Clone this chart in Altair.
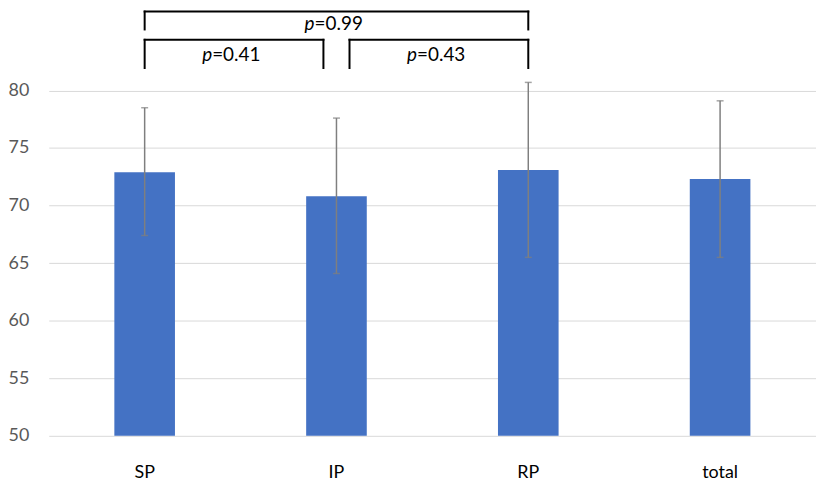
import altair as alt
import pandas as pd

# ---- data ----
categories = ["SP", "IP", "RP", "total"]
means = [72.9, 70.8, 73.1, 72.3]
lower = [67.4, 64.1, 65.5, 65.5]
upper = [78.5, 77.6, 80.7, 79.1]

# significance brackets: (from, to, p-value label, level)
br_from = ["SP", "IP", "SP"]
br_to = ["IP", "RP", "RP"]
br_p = ["=0.41", "=0.43", "=0.99"]
br_level = ["low", "low", "high"]

# ---- styling / layout constants ----
Y_MIN = 50
Y_MAX = 86.95
LEVEL_TOP = {"low": 84.4, "high": 86.85}
LEVEL_LEG = {"low": 81.95, "high": 85.3}
LEVEL_TEXT = {"low": 83.1, "high": 85.75}
INSET = 0.068  # gap between adjacent brackets at a shared category
FONT = "Lato"

df = pd.DataFrame({"cat": categories, "mean": means, "lo": lower, "hi": upper})

# build bracket segments
seg_rows, txt_rows = [], []
for a, b, p, lev in zip(br_from, br_to, br_p, br_level):
    ia, ib = categories.index(a) + 0.5, categories.index(b) + 0.5
    others = [(c, d) for c, d, l in zip(br_from, br_to, br_level) if l == lev and (c, d) != (a, b)]
    if any(d == a for c, d in others):
        ia += INSET
    if any(c == b for c, d in others):
        ib -= INSET
    top, leg = LEVEL_TOP[lev], LEVEL_LEG[lev]
    seg_rows += [
        {"x": ia, "x2": ib, "y": top, "y2": top},
        {"x": ia, "x2": ia, "y": top, "y2": leg},
        {"x": ib, "x2": ib, "y": top, "y2": leg},
    ]
    txt_rows.append({"x": (ia + ib) / 2, "y": LEVEL_TEXT[lev], "p": "p", "rest": p})

seg = pd.DataFrame(seg_rows)
txt = pd.DataFrame(txt_rows)

yscale = alt.Scale(domain=[Y_MIN, Y_MAX], nice=False, zero=False)
xband = alt.X(
    "cat:N",
    sort=categories,
    title=None,
    scale=alt.Scale(paddingInner=0.684, paddingOuter=0.342),
    axis=alt.Axis(
        labelAngle=0, labelFont=FONT, labelFontSize=18, labelColor="#000000",
        labelPadding=28, domain=False, ticks=False, tickSize=0, grid=False,
    ),
)
yenc = alt.Y(
    "mean:Q",
    scale=yscale,
    title=None,
    axis=alt.Axis(
        values=[50, 55, 60, 65, 70, 75, 80], labelFont=FONT, labelFontSize=18,
        labelColor="#595959", labelPadding=20, domain=False, ticks=False, tickSize=0,
        grid=True, gridColor="#d9d9d9", gridWidth=1,
    ),
)

bars = alt.Chart(df).mark_bar(color="#4472C4").encode(x=xband, y=yenc, y2=alt.datum(Y_MIN))
err = alt.Chart(df).mark_rule(color="#7f7f7f", strokeWidth=1.5).encode(
    x=xband, y=alt.Y("lo:Q", scale=yscale), y2="hi:Q"
)
cap_hi = alt.Chart(df).mark_tick(color="#7f7f7f", thickness=1.5, size=7).encode(
    x=xband, y=alt.Y("hi:Q", scale=yscale)
)
cap_lo = alt.Chart(df).mark_tick(color="#7f7f7f", thickness=1.5, size=7).encode(
    x=xband, y=alt.Y("lo:Q", scale=yscale)
)
base = alt.layer(bars, err, cap_hi, cap_lo)

xq = alt.Scale(domain=[0, len(categories)], nice=False, zero=False)
brackets = alt.Chart(seg).mark_rule(color="#000000", strokeWidth=2, strokeCap="square").encode(
    x=alt.X("x:Q", scale=xq, axis=None),
    x2="x2:Q",
    y=alt.Y("y:Q", scale=yscale),
    y2="y2:Q",
)
ptxt = alt.Chart(txt).mark_text(
    font=FONT, fontSize=19, fontStyle="italic", align="right", baseline="middle", dx=-22, color="#000000"
).encode(x=alt.X("x:Q", scale=xq, axis=None), y=alt.Y("y:Q", scale=yscale), text="p:N")
rtxt = alt.Chart(txt).mark_text(
    font=FONT, fontSize=19, align="left", baseline="middle", dx=-22, color="#000000"
).encode(x=alt.X("x:Q", scale=xq, axis=None), y=alt.Y("y:Q", scale=yscale), text="rest:N")
over = alt.layer(brackets, ptxt, rtxt)

chart = (
    alt.layer(base, over)
    .resolve_scale(x="independent")
    .properties(
        width=772,
        height=428,
        autosize=alt.AutoSizeParams(type="none"),
        padding={"left": 41, "top": 1, "right": 0, "bottom": 45},
        background="#ffffff",
    )
    .configure_view(stroke=None)
)

chart.save("out.html", embed_options={"renderer": "svg", "actions": False})
